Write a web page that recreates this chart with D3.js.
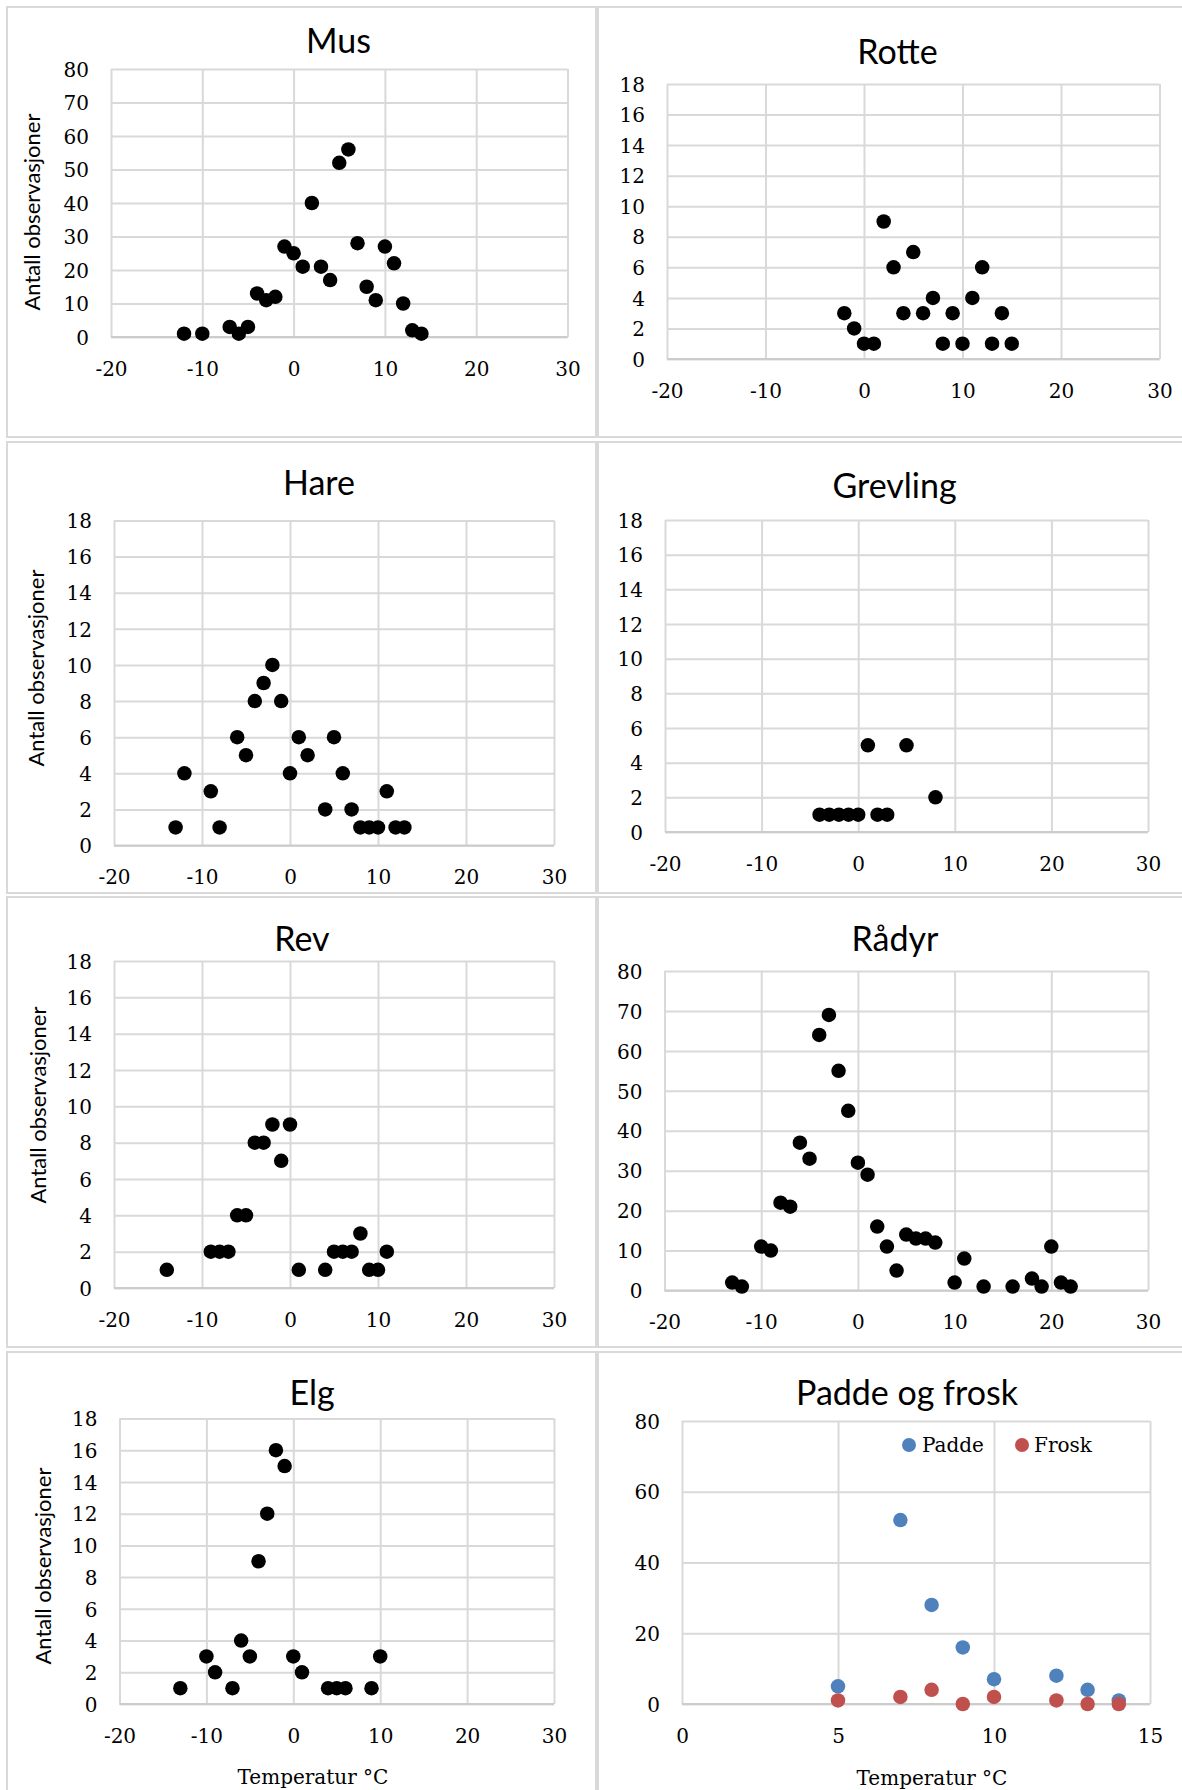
<!DOCTYPE html>
<html><head><meta charset="utf-8">
<script src="https://cdn.jsdelivr.net/npm/d3@7"></script>
<style>body{margin:0;background:#fff}svg{display:block}</style>
</head><body>
<svg id="c" width="1182" height="1790"></svg>
<script>
// ---- tick labels ----
const tempTicks = [-20, -10, 0, 10, 20, 30];
const tempTicksPadde = [0, 5, 10, 15];
const countTicks18 = [0, 2, 4, 6, 8, 10, 12, 14, 16, 18];
const countTicks80 = [0, 10, 20, 30, 40, 50, 60, 70, 80];
const countTicks80b = [0, 20, 40, 60, 80];

// ---- data: temperature (°C) and number of observations ----
const musTemp   = [-12, -10, -7, -6, -5, -4, -3, -2, -1, 0, 1, 2, 3, 4, 5, 6, 7, 8, 9, 10, 11, 12, 13, 14];
const musCount  = [1, 1, 3, 1, 3, 13, 11, 12, 27, 25, 21, 40, 21, 17, 52, 56, 28, 15, 11, 27, 22, 10, 2, 1];

const rotteTemp  = [-2, -1, 0, 1, 2, 3, 4, 5, 6, 7, 8, 9, 10, 11, 12, 13, 14, 15];
const rotteCount = [3, 2, 1, 1, 9, 6, 3, 7, 3, 4, 1, 3, 1, 4, 6, 1, 3, 1];

const hareTemp  = [-13, -12, -9, -8, -6, -5, -4, -3, -2, -1, 0, 1, 2, 4, 5, 6, 7, 8, 9, 10, 11, 12, 13];
const hareCount = [1, 4, 3, 1, 6, 5, 8, 9, 10, 8, 4, 6, 5, 2, 6, 4, 2, 1, 1, 1, 3, 1, 1];

const grevlingTemp  = [-4, -3, -2, -1, 0, 1, 2, 3, 5, 8];
const grevlingCount = [1, 1, 1, 1, 1, 5, 1, 1, 5, 2];

const revTemp  = [-14, -9, -8, -7, -6, -5, -4, -3, -2, -1, 0, 1, 4, 5, 6, 7, 8, 9, 10, 11];
const revCount = [1, 2, 2, 2, 4, 4, 8, 8, 9, 7, 9, 1, 1, 2, 2, 2, 3, 1, 1, 2];

const radyrTemp  = [-13, -12, -10, -9, -8, -7, -6, -5, -4, -3, -2, -1, 0, 1, 2, 3, 4, 5, 6, 7, 8, 10, 11, 13, 16, 18, 19, 20, 21, 22];
const radyrCount = [2, 1, 11, 10, 22, 21, 37, 33, 64, 69, 55, 45, 32, 29, 16, 11, 5, 14, 13, 13, 12, 2, 8, 1, 1, 3, 1, 11, 2, 1];

const elgTemp  = [-13, -10, -9, -7, -6, -5, -4, -3, -2, -1, 0, 1, 4, 5, 6, 9, 10];
const elgCount = [1, 3, 2, 1, 4, 3, 9, 12, 16, 15, 3, 2, 1, 1, 1, 1, 3];

const amphTemp   = [5, 7, 8, 9, 10, 12, 13, 14];
const padeCount  = [5, 52, 28, 16, 7, 8, 4, 1];
const froskCount = [1, 2, 4, 0, 2, 1, 0, 0];

const seriesNames = ["Padde", "Frosk"];
const yTitle = "Antall observasjoner";
const xTitle = "Temperatur °C";

// ---- layout ----
const svg = d3.select("#c");
const GRID = "#d9d9d9";
const TITLE_FONT = "Lato, 'Open Sans', sans-serif";
const NUM_FONT = "'DejaVu Serif', serif";

const panels = [
  {title: "Mus", box: [7, 7, 596, 437], plot: [111, 69, 567.5, 337], titleXY: [338.5, 53],
   xd: [-20, 30], xt: tempTicks, yd: [0, 80], yt: countTicks80, ylab: [32, 212],
   series: [{x: musTemp, y: musCount, c: "#000"}]},
  {title: "Rotte", box: [598, 7, 1184, 437], plot: [667, 84, 1159.5, 359], titleXY: [897.5, 64],
   xd: [-20, 30], xt: tempTicks, yd: [0, 18], yt: countTicks18,
   series: [{x: rotteTemp, y: rotteCount, c: "#000"}]},
  {title: "Hare", box: [7, 442, 596, 893], plot: [114, 520.5, 554, 845.5], titleXY: [319, 495],
   xd: [-20, 30], xt: tempTicks, yd: [0, 18], yt: countTicks18, ylab: [36.5, 668],
   series: [{x: hareTemp, y: hareCount, c: "#000"}]},
  {title: "Grevling", box: [598, 442, 1184, 893], plot: [665, 520, 1148, 832], titleXY: [894.5, 498],
   xd: [-20, 30], xt: tempTicks, yd: [0, 18], yt: countTicks18,
   series: [{x: grevlingTemp, y: grevlingCount, c: "#000"}]},
  {title: "Rev", box: [7, 897, 596, 1347], plot: [114, 961, 554, 1288], titleXY: [302, 951],
   xd: [-20, 30], xt: tempTicks, yd: [0, 18], yt: countTicks18, ylab: [38, 1105],
   series: [{x: revTemp, y: revCount, c: "#000"}]},
  {title: "Rådyr", box: [598, 897, 1184, 1347], plot: [664.5, 971, 1148, 1290.5], titleXY: [895, 951],
   xd: [-20, 30], xt: tempTicks, yd: [0, 80], yt: countTicks80,
   series: [{x: radyrTemp, y: radyrCount, c: "#000"}]},
  {title: "Elg", box: [7, 1352, 596, 1800], plot: [119.5, 1418.5, 554, 1704], titleXY: [312, 1405],
   xd: [-20, 30], xt: tempTicks, yd: [0, 18], yt: countTicks18, ylab: [43, 1566], xlab: [313, 1784],
   series: [{x: elgTemp, y: elgCount, c: "#000"}]},
  {title: "Padde og frosk", box: [598, 1352, 1184, 1800], plot: [682, 1421, 1150, 1704], titleXY: [907, 1405],
   xd: [0, 15], xt: tempTicksPadde, yd: [0, 80], yt: countTicks80b, xlab: [932, 1785],
   series: [{x: amphTemp, y: padeCount, c: "#4F81BD", name: seriesNames[0]},
            {x: amphTemp, y: froskCount, c: "#C0504D", name: seriesNames[1]}],
   legend: {y: 1445, items: [{mx: 909, tx: 922}, {mx: 1022, tx: 1034}]}}
];

panels.forEach(p => {
  const g = svg.append("g");
  const [bx0, by0, bx1, by1] = p.box;
  g.append("rect").attr("x", bx0).attr("y", by0).attr("width", bx1 - bx0).attr("height", by1 - by0)
    .attr("fill", "#fff").attr("stroke", GRID).attr("stroke-width", 2);

  const [l, t, r, b] = p.plot;
  const x = d3.scaleLinear().domain(p.xd).range([l, r]);
  const y = d3.scaleLinear().domain(p.yd).range([b, t]);

  const gx = g.append("g").attr("transform", `translate(0,${b})`)
    .call(d3.axisBottom(x).tickValues(p.xt).tickSize(-(b - t)).tickFormat(d => d));
  gx.select(".domain").remove();
  gx.selectAll("line").attr("stroke", GRID).attr("stroke-width", 2);
  gx.selectAll("text").attr("font-family", NUM_FONT).attr("font-size", 20).attr("fill", "#000")
    .attr("dy", null).attr("y", 38.5);

  const gy = g.append("g").attr("transform", `translate(${l},0)`)
    .call(d3.axisLeft(y).tickValues(p.yt).tickSize(-(r - l)).tickFormat(d => d));
  gy.select(".domain").remove();
  gy.selectAll("line").attr("stroke", GRID).attr("stroke-width", 2);
  gy.selectAll("text").attr("font-family", NUM_FONT).attr("font-size", 20).attr("fill", "#000")
    .attr("dy", "0.36em").attr("x", -22);

  g.append("line").attr("x1", l).attr("x2", r).attr("y1", y(0)).attr("y2", y(0))
    .attr("stroke", "#cccccc").attr("stroke-width", 2);

  g.append("text").attr("x", p.titleXY[0]).attr("y", p.titleXY[1]).attr("text-anchor", "middle")
    .attr("font-family", TITLE_FONT).attr("font-size", 34).attr("fill", "#000").text(p.title);

  if (p.ylab) {
    g.append("text").attr("transform", `translate(${p.ylab[0]},${p.ylab[1]}) rotate(-90)`)
      .attr("text-anchor", "middle").attr("dy", "0.35em")
      .attr("font-family", TITLE_FONT).attr("font-size", 22).attr("fill", "#000").text(yTitle);
  }
  if (p.xlab) {
    g.append("text").attr("x", p.xlab[0]).attr("y", p.xlab[1]).attr("text-anchor", "middle")
      .attr("font-family", NUM_FONT).attr("font-size", 20).attr("fill", "#000").text(xTitle);
  }

  p.series.forEach(s => {
    g.append("g").selectAll("circle").data(s.x.map((v, i) => [v, s.y[i]])).join("circle")
      .attr("cx", d => x(d[0])).attr("cy", d => y(d[1])).attr("r", 7.25).attr("fill", s.c);
  });

  if (p.legend) {
    p.legend.items.forEach((it, i) => {
      const s = p.series[i];
      g.append("circle").attr("cx", it.mx).attr("cy", p.legend.y).attr("r", 7).attr("fill", s.c);
      g.append("text").attr("x", it.tx).attr("y", p.legend.y).attr("dy", "0.36em")
        .attr("font-family", NUM_FONT).attr("font-size", 20).attr("fill", "#000").text(s.name);
    });
  }
});
</script>
</body></html>
